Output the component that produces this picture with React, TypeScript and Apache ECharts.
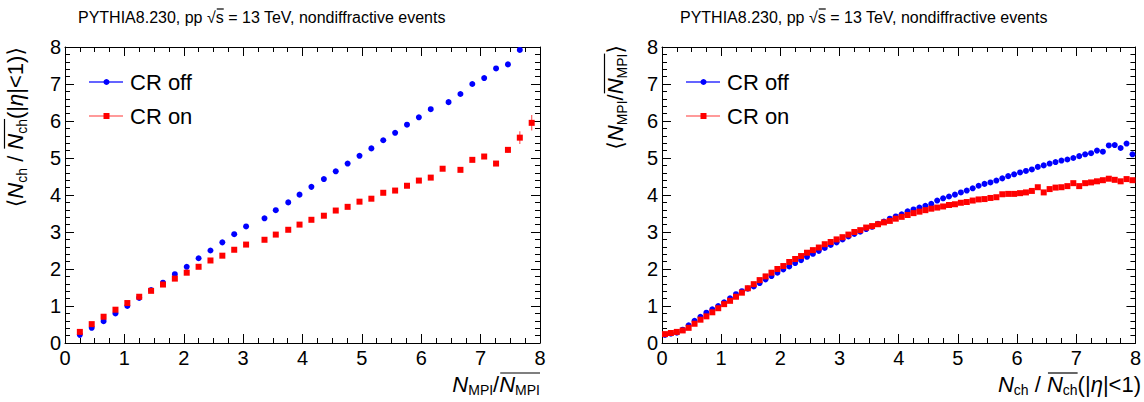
import React, { useEffect, useRef } from "react";
import * as echarts from "echarts";

// ---------- data: left panel  <N_ch/N̄_ch> vs N_MPI/N̄_MPI ----------
const leftOffX = [0.25, 0.45, 0.65, 0.85, 1.05, 1.25, 1.45, 1.65, 1.85, 2.05, 2.25, 2.45, 2.65, 2.85, 3.05, 3.36, 3.55, 3.76, 3.95, 4.15, 4.36, 4.56, 4.76, 4.96, 5.16, 5.36, 5.56, 5.76, 5.96, 6.16, 6.46, 6.66, 6.86, 7.06, 7.26, 7.46, 7.66];
const leftOffY = [0.22, 0.41, 0.59, 0.80, 1.00, 1.22, 1.43, 1.63, 1.86, 2.06, 2.29, 2.50, 2.72, 2.94, 3.15, 3.37, 3.59, 3.80, 4.01, 4.22, 4.43, 4.64, 4.85, 5.06, 5.26, 5.48, 5.68, 5.90, 6.10, 6.32, 6.51, 6.73, 7.00, 7.16, 7.42, 7.53, 7.92];
const leftOnX = [0.25, 0.45, 0.65, 0.85, 1.05, 1.25, 1.45, 1.65, 1.85, 2.05, 2.25, 2.45, 2.65, 2.85, 3.05, 3.36, 3.55, 3.76, 3.95, 4.15, 4.36, 4.56, 4.76, 4.96, 5.16, 5.36, 5.56, 5.76, 5.96, 6.16, 6.36, 6.66, 6.86, 7.06, 7.26, 7.46, 7.66, 7.86];
const leftOnY = [0.30, 0.51, 0.71, 0.90, 1.08, 1.25, 1.41, 1.58, 1.74, 1.90, 2.06, 2.23, 2.36, 2.52, 2.66, 2.79, 2.93, 3.06, 3.20, 3.33, 3.44, 3.58, 3.68, 3.82, 3.90, 4.06, 4.12, 4.25, 4.39, 4.47, 4.71, 4.68, 4.95, 5.04, 4.85, 5.22, 5.55, 5.95];
const leftOnErr = [0, 0, 0, 0, 0, 0, 0, 0, 0, 0, 0, 0, 0, 0, 0, 0, 0, 0, 0, 0, 0, 0, 0, 0, 0, 0, 0, 0, 0, 0, 0.03, 0.03, 0.04, 0.04, 0.05, 0.08, 0.17, 0.21];

// ---------- data: right panel  <N_MPI/N̄_MPI> vs N_ch/N̄_ch ----------
const rightX = [0.05, 0.15, 0.25, 0.35, 0.45, 0.55, 0.65, 0.75, 0.85, 0.95, 1.05, 1.15, 1.25, 1.35, 1.45, 1.55, 1.65, 1.75, 1.85, 1.95, 2.05, 2.15, 2.25, 2.35, 2.45, 2.55, 2.65, 2.75, 2.85, 2.95, 3.05, 3.15, 3.25, 3.35, 3.45, 3.55, 3.65, 3.75, 3.85, 3.95, 4.05, 4.15, 4.25, 4.35, 4.45, 4.55, 4.65, 4.75, 4.85, 4.95, 5.05, 5.15, 5.25, 5.35, 5.45, 5.55, 5.65, 5.75, 5.85, 5.95, 6.05, 6.15, 6.25, 6.35, 6.45, 6.55, 6.65, 6.75, 6.85, 6.95, 7.05, 7.15, 7.25, 7.35, 7.45, 7.55, 7.65, 7.75, 7.85, 7.95];
const rightOffY = [0.22, 0.25, 0.28, 0.36, 0.48, 0.60, 0.71, 0.82, 0.91, 1.00, 1.10, 1.21, 1.32, 1.40, 1.47, 1.53, 1.62, 1.72, 1.81, 1.90, 1.99, 2.07, 2.16, 2.24, 2.33, 2.41, 2.49, 2.57, 2.65, 2.72, 2.80, 2.88, 2.95, 3.01, 3.08, 3.14, 3.22, 3.28, 3.36, 3.42, 3.48, 3.56, 3.61, 3.66, 3.71, 3.76, 3.85, 3.91, 3.96, 4.01, 4.07, 4.12, 4.18, 4.25, 4.30, 4.34, 4.39, 4.45, 4.51, 4.56, 4.61, 4.65, 4.69, 4.76, 4.80, 4.85, 4.89, 4.93, 4.96, 5.00, 5.05, 5.10, 5.13, 5.20, 5.17, 5.34, 5.35, 5.27, 5.39, 5.10];
const rightOnY = [0.24, 0.27, 0.30, 0.34, 0.41, 0.52, 0.63, 0.72, 0.83, 0.94, 1.05, 1.14, 1.25, 1.36, 1.48, 1.59, 1.70, 1.80, 1.90, 2.00, 2.08, 2.19, 2.27, 2.35, 2.44, 2.51, 2.58, 2.67, 2.73, 2.80, 2.86, 2.93, 3.00, 3.05, 3.12, 3.16, 3.21, 3.26, 3.30, 3.36, 3.41, 3.46, 3.51, 3.55, 3.59, 3.63, 3.66, 3.69, 3.73, 3.75, 3.79, 3.81, 3.85, 3.88, 3.89, 3.92, 3.94, 4.02, 4.03, 4.03, 4.05, 4.07, 4.11, 4.21, 4.07, 4.16, 4.20, 4.21, 4.24, 4.32, 4.24, 4.32, 4.34, 4.37, 4.40, 4.44, 4.41, 4.37, 4.43, 4.40];

const xTickLabels = ["0", "1", "2", "3", "4", "5", "6", "7", "8"];
const legendNames = ["CR off", "CR on"];
const titleText = ["PYTHIA8.230, pp ", "\u221A", "s", " = 13 TeV, nondiffractive events"];

const FONT = "'Liberation Sans', 'DejaVu Sans', sans-serif";
const BLUE = "#0000ff";
const RED = "#ff0000";

type Piece = { t: string; s: number; it?: boolean; dy?: number; ov?: boolean };

function makeMeasure() {
  const c = document.createElement("canvas");
  const ctx = c.getContext("2d") as CanvasRenderingContext2D;
  return (t: string, s: number, it?: boolean) => {
    ctx.font = `${it ? "italic " : ""}${s}px ${FONT}`;
    return ctx.measureText(t).width;
  };
}

function buildLabel(
  measure: (t: string, s: number, it?: boolean) => number,
  pieces: Piece[],
  x: number,
  y: number,
  align: "left" | "right",
  rotation: number,
  ovY: number
) {
  const widths = pieces.map((p) => measure(p.t, p.s, p.it));
  const total = widths.reduce((a, b) => a + b, 0);
  let cx = align === "right" ? -total : 0;
  const children: any[] = [];
  let ovStart: number | null = null;
  let ovEnd = 0;
  pieces.forEach((p, i) => {
    children.push({
      type: "text",
      x: cx,
      y: p.dy || 0,
      style: {
        text: p.t,
        fontSize: p.s,
        fontFamily: FONT,
        fontStyle: p.it ? "italic" : "normal",
        fill: "#000",
        align: "left",
        verticalAlign: "middle",
        textAlign: "left",
        textVerticalAlign: "middle",
      },
    });
    if (p.ov) {
      if (ovStart === null) ovStart = cx;
      ovEnd = cx + widths[i];
    }
    cx += widths[i];
  });
  if (ovStart !== null) {
    children.push({
      type: "line",
      shape: { x1: ovStart + 1, y1: -ovY, x2: ovEnd, y2: -ovY },
      style: { stroke: "#000", lineWidth: 1.2 },
    });
  }
  return { type: "group", x, y, rotation, children };
}

function legend(x0: number) {
  const els: any[] = [];
  const rows = [
    { y: 82, name: legendNames[0], line: "#3030ff", kind: "circle", color: BLUE },
    { y: 116, name: legendNames[1], line: "#ff7878", kind: "rect", color: RED },
  ];
  rows.forEach((r) => {
    els.push({ type: "line", shape: { x1: x0, y1: r.y, x2: x0 + 34, y2: r.y }, style: { stroke: r.line, lineWidth: 1.6 } });
    if (r.kind === "circle") {
      els.push({ type: "circle", shape: { cx: x0 + 17.5, cy: r.y, r: 3 }, style: { fill: r.color } });
    } else {
      els.push({ type: "rect", shape: { x: x0 + 14.5, y: r.y - 3, width: 6, height: 6 }, style: { fill: r.color } });
    }
    els.push({
      type: "text",
      x: x0 + 41,
      y: r.y,
      style: { text: r.name, fontSize: 22, fontFamily: FONT, fill: "#000", align: "left", verticalAlign: "middle", textAlign: "left", textVerticalAlign: "middle" },
    });
  });
  return els;
}

export default function App() {
  const ref = useRef<HTMLDivElement>(null);
  useEffect(() => {
    if (!ref.current) return;
    const chart = echarts.init(ref.current, null, { renderer: "svg" });
    const measure = makeMeasure();

    const gridW = 475;
    const grids = [
      { left: 65, top: 47, width: gridW, height: 296 },
      { left: 662, top: 47, width: gridW, height: 296 },
    ];

    const mkX = (gi: number, primary: boolean) => ({
      type: "value",
      gridIndex: gi,
      position: primary ? "bottom" : "top",
      min: 0,
      max: 8,
      interval: 1,
      axisLine: { show: true, onZero: false, lineStyle: { color: "#000", width: 1 } },
      axisTick: { show: true, inside: true, length: 9, lineStyle: { color: "#000", width: 1 } },
      minorTick: { show: true, splitNumber: 4, length: 5, lineStyle: { color: "#000", width: 1 } },
      splitLine: { show: false },
      minorSplitLine: { show: false },
      axisLabel: {
        show: primary,
        margin: 5,
        fontSize: 20,
        fontFamily: FONT,
        color: "#000",
        formatter: (v: number) => xTickLabels[Math.round(v)] ?? String(v),
      },
    });
    const mkY = (gi: number, primary: boolean) => ({
      type: "value",
      gridIndex: gi,
      position: primary ? "left" : "right",
      min: 0,
      max: 8,
      interval: 1,
      axisLine: { show: true, onZero: false, lineStyle: { color: "#000", width: 1 } },
      axisTick: { show: true, inside: true, length: 9, lineStyle: { color: "#000", width: 1 } },
      minorTick: { show: true, splitNumber: 5, length: 5, lineStyle: { color: "#000", width: 1 } },
      splitLine: { show: false },
      minorSplitLine: { show: false },
      axisLabel: { show: primary, margin: 4, fontSize: 20, fontFamily: FONT, color: "#000" },
    });

    const pair = (xs: number[], ys: number[]) => xs.map((x, i) => [x, ys[i]]);

    const subS = 14;
    const mainS = 22;
    const subDy = 6;

    const leftYTitle: Piece[] = [
      { t: "\u27E8", s: mainS },
      { t: "N", s: mainS, it: true },
      { t: "ch", s: subS, dy: subDy },
      { t: " / ", s: mainS },
      { t: "N", s: mainS, it: true, ov: true },
      { t: "ch", s: subS, dy: subDy, ov: true },
      { t: "(|", s: mainS },
      { t: "\u03B7", s: mainS, it: true },
      { t: "|<1)", s: mainS },
      { t: "\u27E9", s: mainS },
    ];
    const leftXTitle: Piece[] = [
      { t: "N", s: mainS, it: true },
      { t: "MPI", s: subS, dy: subDy },
      { t: "/", s: mainS },
      { t: "N", s: mainS, it: true, ov: true },
      { t: "MPI", s: subS, dy: subDy, ov: true },
    ];
    const rightYTitle: Piece[] = [
      { t: "\u27E8", s: mainS },
      { t: "N", s: mainS, it: true },
      { t: "MPI", s: subS, dy: subDy },
      { t: "/", s: mainS },
      { t: "N", s: mainS, it: true, ov: true },
      { t: "MPI", s: subS, dy: subDy, ov: true },
      { t: "\u27E9", s: mainS },
    ];
    const rightXTitle: Piece[] = [
      { t: "N", s: mainS, it: true },
      { t: "ch", s: subS, dy: subDy },
      { t: " / ", s: mainS },
      { t: "N", s: mainS, it: true, ov: true },
      { t: "ch", s: subS, dy: subDy, ov: true },
      { t: "(|", s: mainS },
      { t: "\u03B7", s: mainS, it: true },
      { t: "|<1)", s: mainS },
    ];
    const titleS = 16;
    const titlePieces: Piece[] = [
      { t: titleText[0], s: titleS },
      { t: titleText[1], s: titleS },
      { t: titleText[2], s: titleS, ov: true },
      { t: titleText[3], s: titleS },
    ];

    const errorSeries = {
      type: "custom",
      xAxisIndex: 0,
      yAxisIndex: 0,
      z: 1,
      silent: true,
      data: leftOnX.map((x, i) => [x, leftOnY[i], leftOnErr[i]]),
      renderItem: (_p: any, api: any) => {
        const x = api.value(0);
        const y = api.value(1);
        const e = api.value(2);
        const a = api.coord([x, y - e]);
        const b = api.coord([x, y + e]);
        return {
          type: "line",
          shape: { x1: a[0], y1: a[1], x2: b[0], y2: b[1] },
          style: { stroke: "#ff6060", lineWidth: 1.2 },
        };
      },
    };

    const scatter = (name: string, xi: number, sym: string, color: string, data: number[][], z: number) => ({
      type: "scatter",
      name,
      xAxisIndex: xi,
      yAxisIndex: xi,
      symbol: sym,
      symbolSize: 6,
      itemStyle: { color, opacity: 1 },
      emphasis: { disabled: true },
      data,
      z,
    });

    const option: any = {
      animation: false,
      backgroundColor: "#fff",
      grid: grids,
      xAxis: [mkX(0, true), mkX(0, false), mkX(1, true), mkX(1, false)],
      yAxis: [mkY(0, true), mkY(0, false), mkY(1, true), mkY(1, false)],
      series: [
        errorSeries,
        scatter(legendNames[0], 0, "circle", BLUE, pair(leftOffX, leftOffY), 2),
        scatter(legendNames[1], 0, "rect", RED, pair(leftOnX, leftOnY), 3),
        scatter(legendNames[0], 2, "circle", BLUE, pair(rightX, rightOffY), 2),
        scatter(legendNames[1], 2, "rect", RED, pair(rightX, rightOnY), 3),
      ],
      graphic: [
        buildLabel(measure, titlePieces, 78, 17, "left", 0, 8),
        buildLabel(measure, titlePieces, 680, 17, "left", 0, 8),
        buildLabel(measure, leftYTitle, 15.5, 47, "right", Math.PI / 2, 11),
        buildLabel(measure, rightYTitle, 615.5, 45, "right", Math.PI / 2, 11),
        buildLabel(measure, leftXTitle, 540, 384, "right", 0, 11),
        buildLabel(measure, rightXTitle, 1141, 384, "right", 0, 11),
        ...legend(89),
        ...legend(686),
      ],
    };
    chart.setOption(option);
    return () => chart.dispose();
  }, []);

  return (
    <div
      ref={ref}
      style={{ position: "fixed", left: 0, top: 0, width: 1144, height: 402, background: "#fff" }}
    />
  );
}
